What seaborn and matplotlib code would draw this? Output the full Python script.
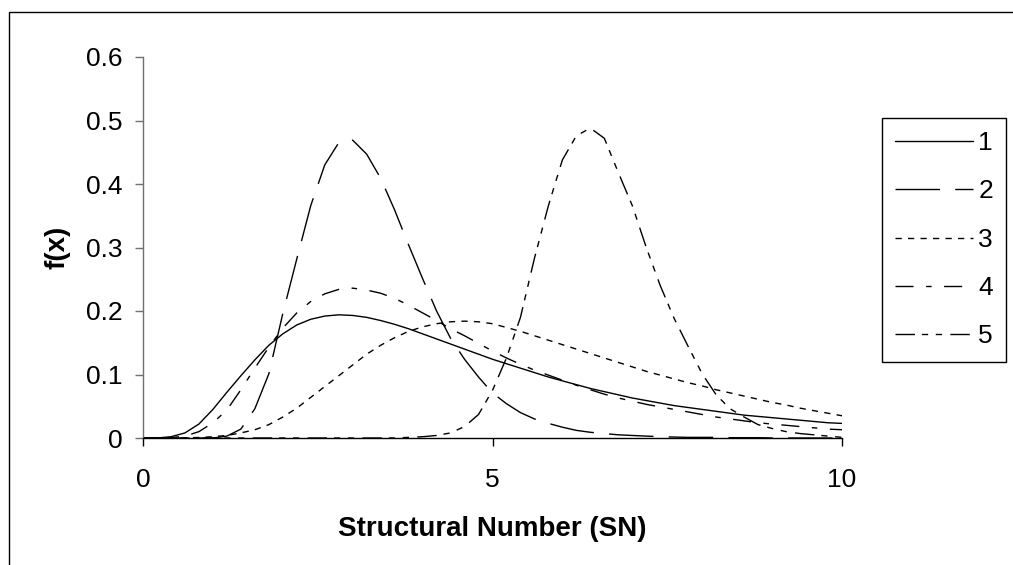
import numpy as np
import pandas as pd
import matplotlib
matplotlib.use("Agg")
import matplotlib.pyplot as plt
from matplotlib.patches import Rectangle
import seaborn as sns

# ---- data ----
sn = [round(0.2 * i, 1) for i in range(51)]

s1 = [0.000, 0.000, 0.002, 0.008, 0.022, 0.045, 0.072, 0.098, 0.123, 0.146,
      0.164, 0.178, 0.187, 0.192, 0.194, 0.193, 0.190, 0.185, 0.179, 0.172,
      0.164, 0.156, 0.148, 0.140, 0.132, 0.124, 0.117, 0.110, 0.103, 0.096,
      0.090, 0.084, 0.078, 0.073, 0.068, 0.063, 0.059, 0.055, 0.051, 0.048,
      0.045, 0.042, 0.039, 0.036, 0.034, 0.032, 0.030, 0.028, 0.026, 0.024,
      0.023]

s2 = [0.000, 0.000, 0.000, 0.000, 0.000, 0.000, 0.003, 0.014, 0.046, 0.101,
      0.196, 0.282, 0.366, 0.430, 0.465, 0.469, 0.447, 0.409, 0.359, 0.304,
      0.251, 0.200, 0.157, 0.124, 0.096, 0.071, 0.054, 0.040, 0.030, 0.023,
      0.017, 0.012, 0.009, 0.007, 0.005, 0.004, 0.003, 0.002, 0.0015, 0.001,
      0.001, 0.001, 0.0005, 0.0005, 0.0005, 0.0, 0.0, 0.0, 0.0, 0.0,
      0.0]

s3 = [0.000, 0.000, 0.000, 0.0003, 0.0008, 0.002, 0.004, 0.008, 0.013, 0.021,
      0.033, 0.047, 0.064, 0.081, 0.098, 0.115, 0.132, 0.146, 0.158, 0.168,
      0.175, 0.180, 0.183, 0.184, 0.183, 0.180, 0.174, 0.168, 0.161, 0.154,
      0.147, 0.140, 0.133, 0.126, 0.119, 0.112, 0.105, 0.099, 0.093, 0.087,
      0.082, 0.076, 0.071, 0.066, 0.061, 0.056, 0.052, 0.047, 0.043, 0.039,
      0.035]

s4 = [0.000, 0.000, 0.0005, 0.003, 0.010, 0.024, 0.044, 0.076, 0.110, 0.143,
      0.173, 0.197, 0.215, 0.227, 0.234, 0.236, 0.233, 0.228, 0.220, 0.209,
      0.197, 0.185, 0.172, 0.161, 0.149, 0.137, 0.126, 0.116, 0.107, 0.099,
      0.091, 0.083, 0.076, 0.069, 0.063, 0.058, 0.053, 0.049, 0.045, 0.041,
      0.037, 0.033, 0.030, 0.027, 0.024, 0.022, 0.020, 0.018, 0.016, 0.014,
      0.013]

s5 = [0.000, 0.000, 0.000, 0.000, 0.000, 0.000, 0.000, 0.000, 0.000, 0.000,
      0.000, 0.000, 0.000, 0.000, 0.000, 0.000, 0.000, 0.000, 0.000, 0.001,
      0.002, 0.004, 0.008, 0.018, 0.037, 0.075, 0.126, 0.190, 0.283, 0.366,
      0.438, 0.476, 0.488, 0.472, 0.418, 0.366, 0.300, 0.240, 0.188, 0.144,
      0.101, 0.068, 0.046, 0.033, 0.021, 0.015, 0.010, 0.007, 0.005, 0.003,
      0.001]

series_names = ["1", "2", "3", "4", "5"]
x_ticks = [0, 5, 10]
y_ticks = [0, 0.1, 0.2, 0.3, 0.4, 0.5, 0.6]
y_tick_labels = ["0", "0.1", "0.2", "0.3", "0.4", "0.5", "0.6"]

df = pd.DataFrame({
    "SN": sn * 5,
    "f": s1 + s2 + s3 + s4 + s5,
    "series": sum([[n] * len(sn) for n in series_names], []),
})

# ---- style ----
sns.set_style("white")
plt.rcParams["font.family"] = ["Liberation Sans", "DejaVu Sans"]
plt.rcParams["text.color"] = "black"
plt.rcParams["axes.labelcolor"] = "black"
plt.rcParams["xtick.color"] = "black"
plt.rcParams["ytick.color"] = "black"

W, H = 1013, 565
fig = plt.figure(figsize=(W / 100, H / 100), dpi=100)
ax = fig.add_axes([143 / W, 1 - 438 / H, (842 - 143) / W, (438 - 57) / H])

dash_map = {
    "1": "",
    "2": (32, 11),
    "3": (4.5, 4.5),
    "4": (13, 9, 4, 9),
    "5": (14, 5, 4.5, 5.5, 4.5, 6),
}

sns.lineplot(data=df, x="SN", y="f", style="series", dashes=dash_map,
             style_order=series_names, color="black", linewidth=1.0,
             ax=ax, legend=False, estimator=None)

ax.set_xlim(0, 10)
ax.set_ylim(0, 0.6)
ax.set_xticks(x_ticks)
ax.set_xticklabels([str(v) for v in x_ticks])
ax.set_yticks(y_ticks)
ax.set_yticklabels(y_tick_labels)

for side in ["top", "right"]:
    ax.spines[side].set_visible(False)
ax.spines["left"].set_color("#707070")
ax.spines["left"].set_linewidth(1.0)
ax.spines["bottom"].set_color("black")
ax.spines["bottom"].set_linewidth(1.0)

ax.tick_params(axis="y", direction="out", length=5.8, width=1.0,
               color="#707070", labelcolor="black", pad=9, labelsize=19,
               left=True)
ax.tick_params(axis="x", direction="out", length=5.8, width=1.0,
               color="black", labelcolor="black", pad=15.5, labelsize=19,
               bottom=True)

ax.set_xlabel("Structural Number (SN)", fontsize=20, fontweight="bold",
              color="black")
ax.set_ylabel("f(x)", fontsize=20, fontweight="bold", color="black")
ax.xaxis.set_label_coords(0.5, -(516 - 438) / (438 - 57))
ax.yaxis.set_label_coords((70 - 143) / (842 - 143), 0.5)

leg = fig.legend(handles=ax.lines[:5], labels=series_names,
                 loc="upper left", bbox_to_anchor=(882 / W, 1 - 118 / H),
                 fontsize=19, frameon=True, fancybox=False, shadow=False,
                 framealpha=1, edgecolor="black", handlelength=2.95,
                 handletextpad=0.2, labelspacing=0.92, borderpad=0.5,
                 borderaxespad=0)
leg.get_frame().set_linewidth(1.0)
for t in leg.get_texts():
    t.set_color("black")

# outer chart frame (only left and top edges are inside the picture)
fig.add_artist(Rectangle((9 / W, -0.1), 1.2, (1 - 12 / H) + 0.1,
                         transform=fig.transFigure, fill=False,
                         edgecolor="black", linewidth=1.0, clip_on=False))

fig.savefig("out.png", dpi=100)
